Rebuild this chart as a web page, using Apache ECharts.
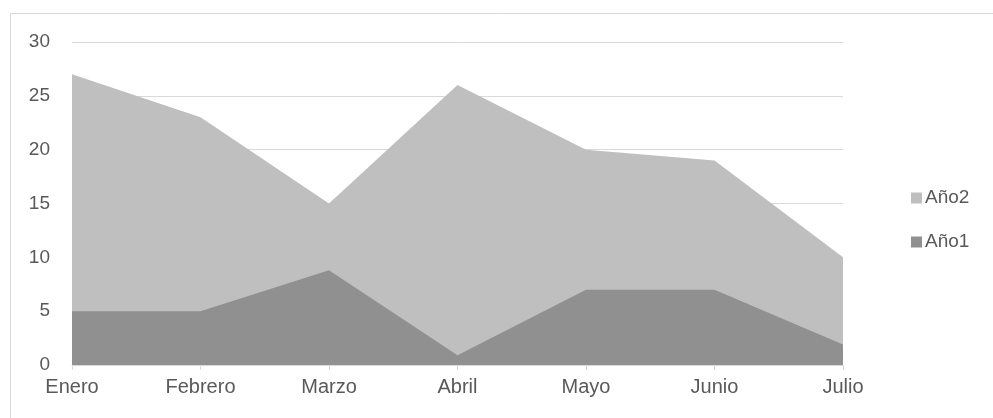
<!DOCTYPE html>
<html>
<head>
<meta charset="utf-8">
<script src="https://cdn.jsdelivr.net/npm/echarts@6/dist/echarts.min.js"></script>
<style>
html,body{margin:0;padding:0;background:#fff;}
#c{width:993px;height:418px;}
</style>
</head>
<body>
<div id="c"></div>
<script>
const categories = ['Enero','Febrero','Marzo','Abril','Mayo','Junio','Julio'];
const ano1 = [5, 5, 8.8, 0.9, 7, 7, 1.9];
const ano2 = [27, 23, 15, 26, 20, 19, 10];
const yTicks = {min: 0, max: 30, interval: 5};

const chart = echarts.init(document.getElementById('c'), null, {renderer: 'canvas'});
const font = 'Liberation Sans';
chart.setOption({
  animation: false,
  backgroundColor: '#ffffff',
  graphic: [{
    type: 'rect', left: 8, top: 11, silent: true,
    shape: {width: 1000, height: 420},
    style: {fill: 'none', stroke: '#d9d9d9', lineWidth: 1}
  }],
  grid: {left: 72, right: 150, top: 42, bottom: 53},
  legend: {
    orient: 'vertical', left: 906, top: 183,
    itemWidth: 11, itemHeight: 11, itemGap: 24,
    icon: 'rect',
    data: ['Año2', 'Año1'],
    textStyle: {fontFamily: font, fontSize: 19, lineHeight: 20, color: '#595959', padding: [0,0,0,-2]}
  },
  xAxis: {
    type: 'category', data: categories, boundaryGap: false,
    axisLine: {lineStyle: {color: '#d9d9d9'}},
    axisTick: {show: true, length: 5, lineStyle: {color: '#d9d9d9'}},
    axisLabel: {fontFamily: font, fontSize: 20, color: '#595959', margin: 12}
  },
  yAxis: {
    type: 'value', min: yTicks.min, max: yTicks.max, interval: yTicks.interval,
    axisLine: {show: false}, axisTick: {show: false},
    splitLine: {lineStyle: {color: '#d9d9d9'}},
    axisLabel: {fontFamily: font, fontSize: 19, color: '#595959', margin: 22}
  },
  series: [
    {name: 'Año2', type: 'line', data: ano2, showSymbol: false, symbol: 'none',
     lineStyle: {width: 0}, itemStyle: {color: '#bfbfbf'},
     areaStyle: {color: '#bfbfbf', opacity: 1}},
    {name: 'Año1', type: 'line', data: ano1, showSymbol: false, symbol: 'none',
     lineStyle: {width: 0}, itemStyle: {color: '#909090'},
     areaStyle: {color: '#909090', opacity: 1}}
  ]
});
</script>
</body>
</html>
